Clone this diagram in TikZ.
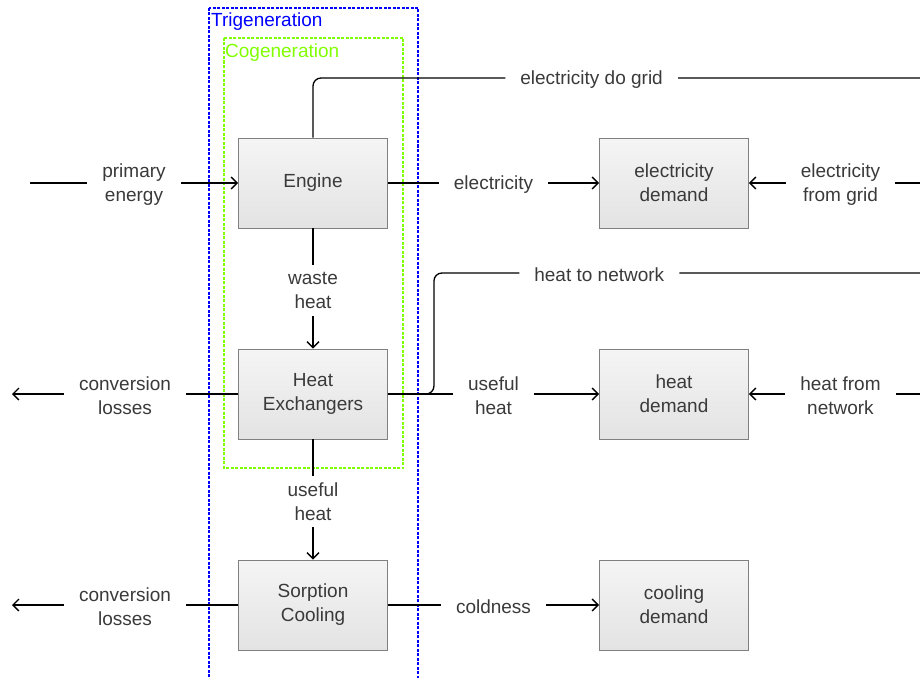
\documentclass[tikz,border=0pt]{standalone}
\usepackage{fontspec}
\setmainfont{Liberation Sans}
\usepackage{tikz}
\usetikzlibrary{arrows.meta}
\usetikzlibrary{positioning}
\definecolor{textgray}{HTML}{3A3A3A}
\definecolor{boxgray}{HTML}{808080}
\definecolor{trigen}{HTML}{0000FF}
\definecolor{cogen}{HTML}{80FF00}
\tikzstyle{block}=[draw=boxgray,line width=0.9pt,top color=black!4,bottom color=black!11,minimum width=149pt,minimum height=90pt,align=center,text=textgray,inner sep=2pt]
\tikzstyle{lbl}=[fill=white,align=center,text=textgray,inner xsep=15pt,inner ysep=7pt,yshift=-2pt]
\tikzstyle{flow}=[line width=1.3pt,-{Straight Barb[length=6pt,width=12pt]}]
\tikzstyle{line}=[line width=1.3pt]

\begin{document}
\begin{tikzpicture}[
  x=1pt,y=-1pt,
  font=\fontsize{19}{24}\selectfont,
  frame/.style={line width=1.2pt,dash pattern=on 3pt off 1.5pt},
]
\useasboundingbox (0,0) rectangle (920,677);
\clip (0,0) rectangle (920,677);
% system boundaries
\draw[frame,draw=trigen] (209,8) rectangle (418,700);
\node[anchor=base west,inner sep=0pt,text=trigen] (trilbl) at (211,27) {Trigeneration};
\draw[frame,draw=cogen] (224,38) rectangle (403,468);
\node[anchor=base west,inner sep=0pt,text=cogen] (colbl) at (225,57) {Cogeneration};
% plants
\node[block] (engine) at (313,183) {Engine};
\node[block] (hx) at (313,394) {Heat\\Exchangers};
\node[block] (sorp) at (313,605) {Sorption\\Cooling};
% demands
\node[block] (edem) at (674,183) {electricity\\demand};
\node[block] (hdem) at (674,394) {heat\\demand};
\node[block] (cdem) at (674,605) {cooling\\demand};
% free ends
\coordinate (pe) at (30,183);
\coordinate (loss1) at (12,394);
\coordinate (loss2) at (12,605);
\coordinate (gridin) at (932,183);
\coordinate (netin) at (932,394);
\coordinate (gridout) at (932,78);
\coordinate (netout) at (932,273);
% flows
\draw[flow] (pe) -- node[lbl]{primary\\energy} (engine);
\draw[flow] (engine) -- node[lbl]{electricity} (edem);
\draw[flow] (gridin) -- node[lbl]{electricity\\from grid} (edem);
\draw[flow] (engine) -- node[lbl]{waste\\heat} (hx);
\draw[flow] (hx) -- node[lbl]{useful\\heat} (hdem);
\draw[flow] (netin) -- node[lbl]{heat from\\network} (hdem);
\draw[flow] (hx) -- node[lbl]{conversion\\losses} (loss1);
\draw[flow] (hx) -- node[lbl]{useful\\heat} (sorp);
\draw[flow] (sorp) -- node[lbl]{conversion\\losses} (loss2);
\draw[flow] (sorp) -- node[lbl]{coldness} (cdem);
\draw[line,rounded corners=8pt] (engine.north) |- node[lbl,pos=0.725]{electricity do grid} (gridout);
\draw[line,rounded corners=8pt] (hx.east) -- ++(46,0) |- node[lbl,pos=0.666]{heat to network} (netout);
\end{tikzpicture}
\end{document}
